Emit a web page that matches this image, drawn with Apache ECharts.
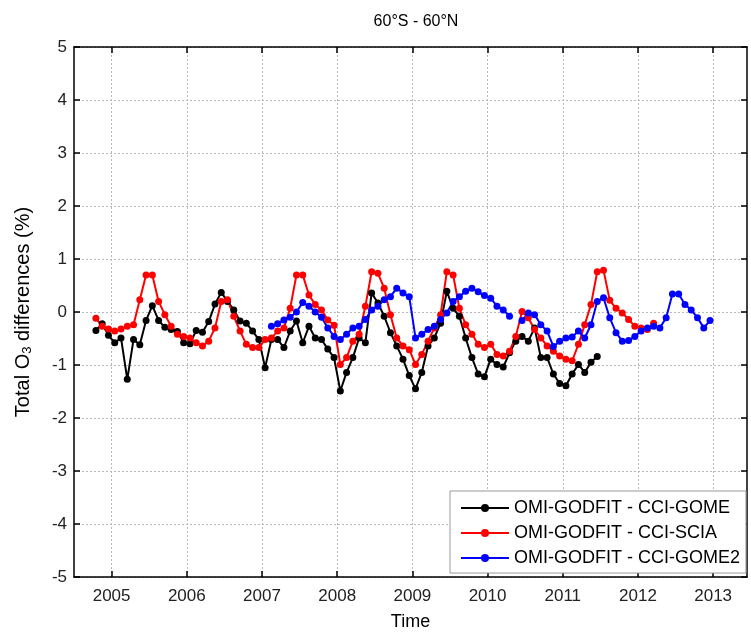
<!DOCTYPE html>
<html><head><meta charset="utf-8">
<script src="https://cdn.jsdelivr.net/npm/echarts@6/dist/echarts.min.js"></script>
<style>html,body{margin:0;padding:0;background:#fff}#c{width:751px;height:636px}</style>
</head><body><div id="c"></div>
<script>
const titleText = '60°S - 60°N';
const seriesNames = ['OMI-GODFIT - CCI-GOME', 'OMI-GODFIT - CCI-SCIA', 'OMI-GODFIT - CCI-GOME2'];
const yearTicks = [2005, 2006, 2007, 2008, 2009, 2010, 2011, 2012, 2013];

// monthly values; start = [year, month]
const gomeStart = [2004, 10];
const gomeValues = [
  -0.35, -0.22, -0.44, -0.58, -0.49, -1.27, -0.52, -0.62, -0.16, 0.12, -0.16, -0.29,
  -0.33, -0.37, -0.58, -0.60, -0.35, -0.38, -0.18, 0.15, 0.37, 0.20, 0.04, -0.17,
  -0.21, -0.36, -0.52, -1.05, -0.52, -0.52, -0.67, -0.36, -0.17, -0.58, -0.27, -0.49,
  -0.52, -0.70, -0.86, -1.49, -1.14, -0.86, -0.49, -0.58, 0.36, 0.17, -0.08, -0.39,
  -0.64, -0.89, -1.20, -1.45, -1.14, -0.64, -0.49, -0.21, 0.39, 0.07, -0.08, -0.49,
  -0.86, -1.17, -1.22, -0.89, -0.99, -1.04, -0.77, -0.55, -0.46, -0.55, -0.30, -0.86,
  -0.86, -1.17, -1.35, -1.39, -1.17, -0.99, -1.14, -0.95, -0.84
];
const sciaStart = [2004, 10];
const sciaValues = [
  -0.12, -0.27, -0.32, -0.36, -0.32, -0.27, -0.24, 0.23, 0.70, 0.70, 0.20, -0.05,
  -0.27, -0.42, -0.46, -0.49, -0.58, -0.64, -0.55, -0.30, 0.20, 0.23, -0.08, -0.36,
  -0.61, -0.67, -0.67, -0.52, -0.49, -0.36, -0.30, 0.07, 0.70, 0.70, 0.32, 0.14,
  0.04, -0.15, -0.25, -0.99, -0.86, -0.55, -0.42, 0.11, 0.76, 0.73, 0.45, -0.05,
  -0.49, -0.64, -0.71, -0.99, -0.80, -0.55, -0.30, -0.05, 0.76, 0.70, 0.07, -0.24,
  -0.42, -0.61, -0.67, -0.61, -0.80, -0.83, -0.74, -0.46, 0.01, -0.11, -0.33, -0.49,
  -0.64, -0.74, -0.83, -0.89, -0.92, -0.61, -0.24, 0.14, 0.76, 0.79, 0.22, 0.07,
  -0.02, -0.14, -0.27, -0.30, -0.33, -0.21
];
const gome2Start = [2007, 2];
const gome2Values = [
  -0.27, -0.22, -0.15, -0.10, 0.00, 0.18, 0.11, 0.00, -0.10, -0.30, -0.46,
  -0.52, -0.42, -0.30, -0.27, -0.14, 0.04, 0.11, 0.23, 0.29, 0.45, 0.36, 0.29,
  -0.49, -0.42, -0.33, -0.27, -0.14, -0.02, 0.20, 0.29, 0.39, 0.45, 0.38, 0.31,
  0.26, 0.11, 0.04, -0.08, null, -0.16, -0.02, -0.05, -0.24, -0.36, -0.65, -0.55,
  -0.49, -0.47, -0.36, -0.49, -0.24, 0.20, 0.27, -0.11, -0.39, -0.55, -0.54, -0.46,
  -0.36, -0.30, -0.27, -0.30, -0.11, 0.34, 0.34, 0.14, 0.04, -0.11, -0.30, -0.16
];
const seriesColors = ['#000000', '#ff0000', '#0000ff'];

function toPairs(start, vals) {
  return vals.map((v, i) => [start[0] + (start[1] - 1 + i + 0.5) / 12, v === null ? '-' : v]);
}

const chart = echarts.init(document.getElementById('c'), null, {renderer: 'canvas'});
const FONT = 'Liberation Sans, Arial, Helvetica, sans-serif';
const axisLineStyle = {color: '#000', width: 1.5};
const gridLine = {show: true, lineStyle: {color: '#b8b8b8', type: [2, 2], width: 1}};

function mkSeries(name, data, color) {
  return {
    name: name, type: 'line', data: data,
    xAxisIndex: 0, yAxisIndex: 0,
    symbol: 'circle', symbolSize: 7, showSymbol: true, showAllSymbol: true,
    connectNulls: false,
    lineStyle: {color: color, width: 2},
    itemStyle: {color: color},
    emphasis: {disabled: true},
    animation: false
  };
}

chart.setOption({
  animation: false,
  backgroundColor: '#fff',
  textStyle: {fontFamily: FONT},
  title: {
    text: titleText, left: 411, top: 9, textAlign: 'center',
    textStyle: {fontSize: 16, fontWeight: 'normal', color: '#000', fontFamily: FONT}
  },
  grid: {left: 74, right: 4, top: 47, bottom: 55, containLabel: false},
  legend: {
    orient: 'vertical', left: 450, top: 491,
    data: seriesNames,
    itemWidth: 48, itemHeight: 10, itemGap: 7,
    padding: [8, 6, 6, 10],
    backgroundColor: '#fff', borderColor: '#9a9a9a', borderWidth: 1,
    textStyle: {fontSize: 18, color: '#000', fontFamily: FONT},
    selectedMode: false
  },
  xAxis: [
    {
      type: 'value', position: 'bottom', min: 2004.5, max: 2013.45,
      axisLine: {show: true, onZero: false, lineStyle: axisLineStyle},
      axisTick: {show: true, inside: true, length: 6, customValues: yearTicks, lineStyle: axisLineStyle},
      axisLabel: {show: true, customValues: yearTicks, fontSize: 17, color: '#222', margin: 11,
                  formatter: v => String(v), fontFamily: FONT},
      splitLine: gridLine,
      name: 'Time', nameLocation: 'middle', nameGap: 36,
      nameTextStyle: {fontSize: 18, color: '#000', fontFamily: FONT}
    },
    {
      type: 'value', position: 'top', min: 2004.5, max: 2013.45,
      axisLine: {show: true, onZero: false, lineStyle: axisLineStyle},
      axisTick: {show: true, inside: true, length: 6, customValues: yearTicks, lineStyle: axisLineStyle},
      axisLabel: {show: false}, splitLine: {show: false}
    }
  ],
  yAxis: [
    {
      type: 'value', position: 'left', min: -5, max: 5, interval: 1,
      axisLine: {show: true, onZero: false, lineStyle: axisLineStyle},
      axisTick: {show: true, inside: true, length: 6, lineStyle: axisLineStyle},
      axisLabel: {fontSize: 17, color: '#222', margin: 7, fontFamily: FONT},
      splitLine: gridLine,
      name: 'Total O{sub|3} differences (%)', nameLocation: 'middle', nameGap: 40,
      nameTextStyle: {
        fontSize: 20, color: '#000', fontFamily: FONT,
        rich: {sub: {fontSize: 13, verticalAlign: 'bottom', padding: [9, 0, 0, 0], fontFamily: FONT}}
      }
    },
    {
      type: 'value', position: 'right', min: -5, max: 5, interval: 1,
      axisLine: {show: true, onZero: false, lineStyle: axisLineStyle},
      axisTick: {show: true, inside: true, length: 6, lineStyle: axisLineStyle},
      axisLabel: {show: false}, splitLine: {show: false}
    }
  ],
  series: [
    mkSeries(seriesNames[0], toPairs(gomeStart, gomeValues), seriesColors[0]),
    mkSeries(seriesNames[1], toPairs(sciaStart, sciaValues), seriesColors[1]),
    mkSeries(seriesNames[2], toPairs(gome2Start, gome2Values), seriesColors[2])
  ]
});
</script></body></html>
